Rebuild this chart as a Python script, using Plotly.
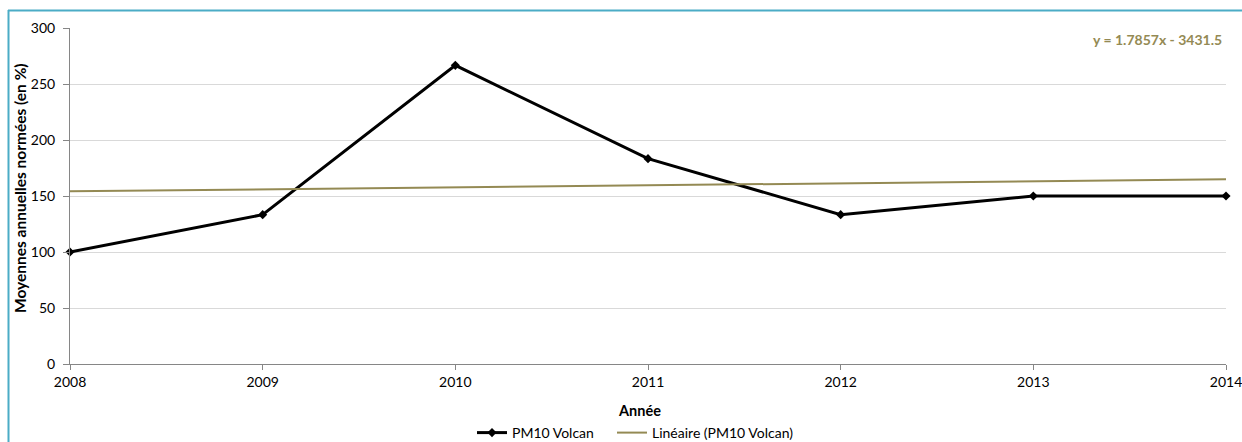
import plotly.graph_objects as go

# Annual normalised PM10 means (base 2008 = 100)
years = [2008, 2009, 2010, 2011, 2012, 2013, 2014]
pm10_volcan = [100.0, 133.33, 266.67, 183.33, 133.33, 150.0, 150.0]

# Linear trend coefficients as printed on the chart
trend_slope = 1.7857
trend_intercept = -3431.5
trend_label = "y = 1.7857x - 3431.5"

y_ticks = [0, 50, 100, 150, 200, 250, 300]

W, H = 1242, 442
ML, MR, MT, MB = 70, 16, 28, 78
plot_w = W - ML - MR
plot_h = H - MT - MB


def px_x(px):
    return (px - ML) / plot_w


def px_y(py):
    return (H - MB - py) / plot_h


FONT = "Lato, 'Open Sans', sans-serif"
TREND_COLOR = "#948A54"

trend_values = [trend_slope * y + trend_intercept for y in years]

fig = go.Figure()
fig.add_trace(go.Scatter(
    x=years, y=pm10_volcan, name="PM10 Volcan",
    mode="lines+markers",
    line=dict(color="#000000", width=3),
    marker=dict(symbol="diamond", size=7, color="#000000"),
    cliponaxis=False,
    legend="legend",
))
fig.add_trace(go.Scatter(
    x=years, y=trend_values, name="Linéaire (PM10 Volcan)",
    mode="lines",
    line=dict(color=TREND_COLOR, width=2),
    cliponaxis=False,
    legend="legend2",
))

legend_style = dict(
    orientation="h", xanchor="left", yanchor="middle",
    y=px_y(433), font=dict(size=14), bgcolor="rgba(0,0,0,0)",
)

fig.update_layout(
    width=W, height=H,
    margin=dict(l=ML, r=MR, t=MT, b=MB, autoexpand=False),
    paper_bgcolor="white", plot_bgcolor="white",
    font=dict(family=FONT, size=14, color="#000000"),
    showlegend=True,
    legend=dict(x=px_x(472), **legend_style),
    legend2=dict(x=px_x(612), **legend_style),
    xaxis=dict(
        range=[2008, 2014], tickvals=years,
        ticktext=[str(y) for y in years],
        showgrid=False, zeroline=False,
        showline=True, linecolor="#868686", linewidth=1,
        ticks="outside", ticklen=5, tickcolor="#868686",
        tickfont=dict(size=14),
        ticklabeloverflow="allow",
    ),
    yaxis=dict(
        range=[0, 300], tickvals=y_ticks,
        showgrid=True, gridcolor="#D9D9D9", gridwidth=1,
        zeroline=False,
        showline=True, linecolor="#868686", linewidth=1,
        ticks="outside", ticklen=6, tickcolor="#868686",
        ticklabelstandoff=5,
        tickfont=dict(size=14),
    ),
)

# Axis titles
fig.add_annotation(
    text="<b>Année</b>", xref="paper", yref="paper",
    x=px_x(639), y=px_y(410), xanchor="center", yanchor="middle",
    showarrow=False, font=dict(size=14.5),
)
fig.add_annotation(
    text="<b>Moyennes annuelles normées (en %)</b>", xref="paper", yref="paper",
    x=px_x(20), y=px_y(188), xanchor="center", yanchor="middle",
    textangle=-90, showarrow=False, font=dict(size=15.5),
)

# Trend equation
fig.add_annotation(
    text=f"<b>{trend_label}</b>", xref="paper", yref="paper",
    x=px_x(1224), y=px_y(40), xanchor="right", yanchor="middle",
    showarrow=False, font=dict(size=14, color=TREND_COLOR),
)

# Chart frame
BORDER = "#4BACC6"
fig.add_shape(type="line", xref="paper", yref="paper",
              x0=px_x(8), x1=px_x(W + 2), y0=px_y(10.5), y1=px_y(10.5),
              line=dict(color=BORDER, width=2))
fig.add_shape(type="line", xref="paper", yref="paper",
              x0=px_x(8.5), x1=px_x(8.5), y0=px_y(10), y1=px_y(H + 2),
              line=dict(color=BORDER, width=2))

fig.write_html("out.html")
